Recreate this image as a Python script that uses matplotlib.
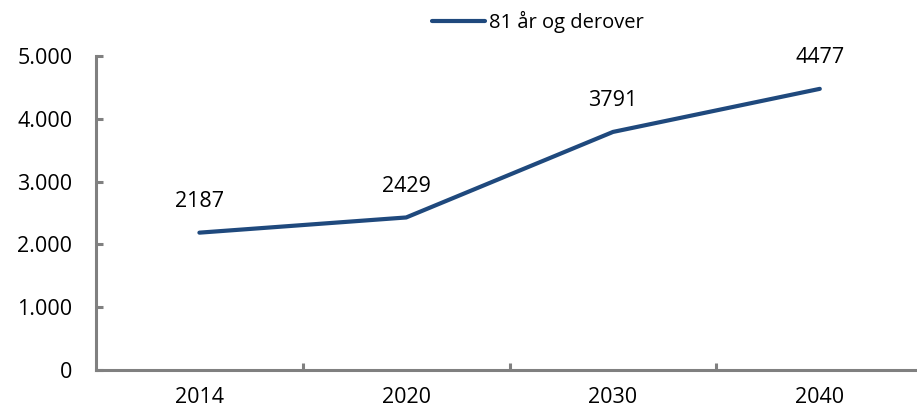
import matplotlib
matplotlib.use('Agg')
import matplotlib.pyplot as plt
from matplotlib.ticker import FuncFormatter

plt.rcParams['font.family'] = ['Open Sans', 'DejaVu Sans']

years = ['2014', '2020', '2030', '2040']
values = [2187, 2429, 3791, 4477]
series_name = '81 år og derover'
y_ticks = [0, 1000, 2000, 3000, 4000, 5000]

line_color = '#1F497D'
axis_color = '#808080'

fig = plt.figure(figsize=(9.17, 4.11), dpi=100)
ax = fig.add_axes([96 / 917, 41 / 411, 1 - 96 / 917, 314 / 411])

x = list(range(len(years)))
ax.plot(x, values, color=line_color, linewidth=3, solid_capstyle='round', label=series_name)

# data labels above each point
for xi, v in zip(x, values):
    ax.annotate(str(v), (xi, v), xytext=(0, 22.5), textcoords='offset points',
                ha='center', va='center', fontsize=15.5, color='black')

ax.set_xlim(-0.5, 3.47)
ax.set_ylim(0, 5000)
ax.set_yticks(y_ticks)
ax.yaxis.set_major_formatter(FuncFormatter(lambda v, p: f'{int(v):,}'.replace(',', '.')))
ax.set_xticks(x)
ax.set_xticklabels(years)
ax.set_xticks([0.5, 1.5, 2.5], minor=True)

for side in ['top', 'right']:
    ax.spines[side].set_visible(False)
for side in ['left', 'bottom']:
    ax.spines[side].set_color(axis_color)
    ax.spines[side].set_linewidth(2.2)

ax.tick_params(axis='y', direction='in', length=5, width=2.2, color=axis_color,
               labelsize=15.5, pad=17)
ax.tick_params(axis='x', which='major', length=0, labelsize=15.5, pad=12)
ax.tick_params(axis='x', which='minor', direction='in', length=5, width=2.2, color=axis_color)

fig.legend(loc='center', bbox_to_anchor=(538 / 917, 1 - 22 / 411), frameon=False,
           fontsize=14.5, handlelength=2.6, handletextpad=0.2)

fig.savefig('out.png', dpi=100)
